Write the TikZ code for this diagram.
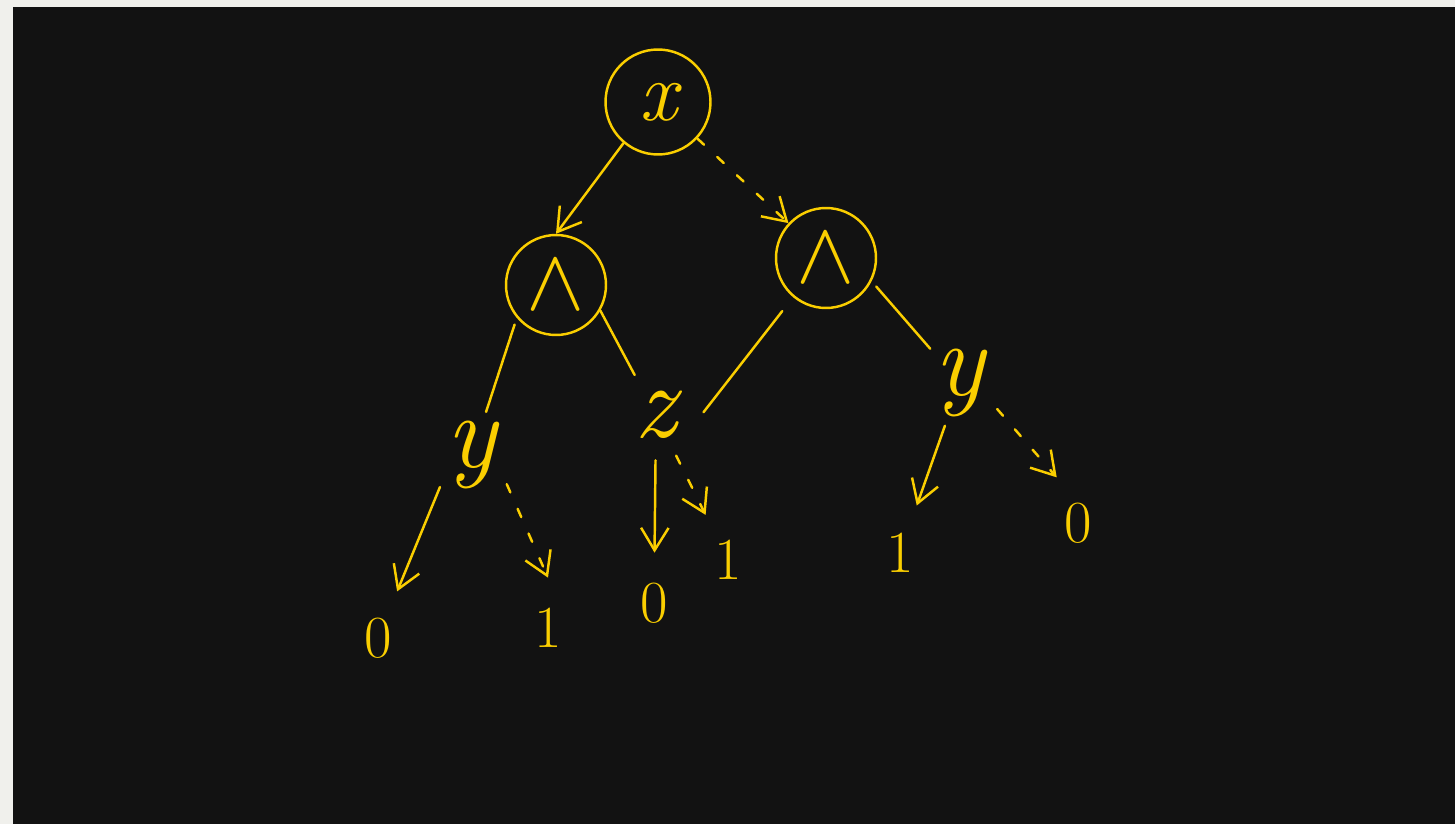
\documentclass[tikz,border=0pt]{standalone}
\usepackage{fontspec}
\usetikzlibrary{arrows.meta, positioning}
\definecolor{chalk}{RGB}{250,206,0}
\definecolor{board}{RGB}{18,18,18}
\definecolor{frame}{RGB}{240,240,236}

\begin{document}
\begin{tikzpicture}[x=0.02cm, y=-0.02cm,
            >={Straight Barb[length=4.5mm, width=5.5mm]},
            every node/.style={text=chalk},
            opnode/.style={draw=chalk, circle, line width=1.4pt, minimum size=2cm, inner sep=0pt, font=\fontsize{48}{48}\selectfont},
            varnode/.style={circle, minimum size=1.8cm, inner sep=0pt, font=\fontsize{60}{60}\selectfont\itshape},
            leafnode/.style={circle, minimum size=2cm, inner sep=0pt, font=\fontsize{34}{34}\selectfont},
            hiedge/.style={draw=chalk, line width=1.4pt, line cap=round},
            loedge/.style={hiedge, dash pattern=on 0.18cm off 0.36cm}]
            \useasboundingbox (0,0) rectangle (1455,824);
            \fill [frame] (0,0) rectangle (1455,824);
            \fill [board] (13,7) rectangle (1455,824);

            \node [opnode, minimum size=2.1cm] (x) at (658,102) {\itshape x};
            \node [opnode] (andL) at (556,285) {\scalebox{2}{$\wedge$}};
            \node [opnode] (andR) at (826,258) {\scalebox{2}{$\wedge$}};

            \node [varnode] (yL) at (472,455) {y};
            \node [varnode] (z) at (656,415) {z};
            \node [varnode] (yR) at (960,383) {y};

            \node [leafnode] (yLlo) at (378,638) {0};
            \node [leafnode] (yLhi) at (548,628) {1};
            \node [leafnode] (zlo) at (654,603) {0};
            \node [leafnode] (zhi) at (728,560) {1};
            \node [leafnode] (yRhi) at (900,553) {1};
            \node [leafnode] (yRlo) at (1078,523) {0};

            \draw [hiedge, ->] (x.230) -- (andL.north);
            \draw [loedge, ->] (x) -- (andR);
            \draw [hiedge, shorten <=4pt] (andL.220) -- (yL);
            \draw [hiedge] (andL.-30) -- (z);
            \draw [hiedge, shorten <=10pt, shorten >=2pt] (andR.230) -- (z.east);
            \draw [hiedge, shorten <=4pt] (andR.-27) -- (yR);

            \draw [hiedge, ->] (yL.225) -- (yLlo);
            \draw [loedge, ->] (yL.-40) -- (yLhi.north);
            \draw [hiedge, ->] (z) -- (zlo);
            \draw [loedge, ->] (z) -- (zhi);
            \draw [hiedge, ->] (yR) -- (yRhi);
            \draw [loedge, ->] (yR.-35) -- (yRlo.115);
          \end{tikzpicture}
\end{document}
